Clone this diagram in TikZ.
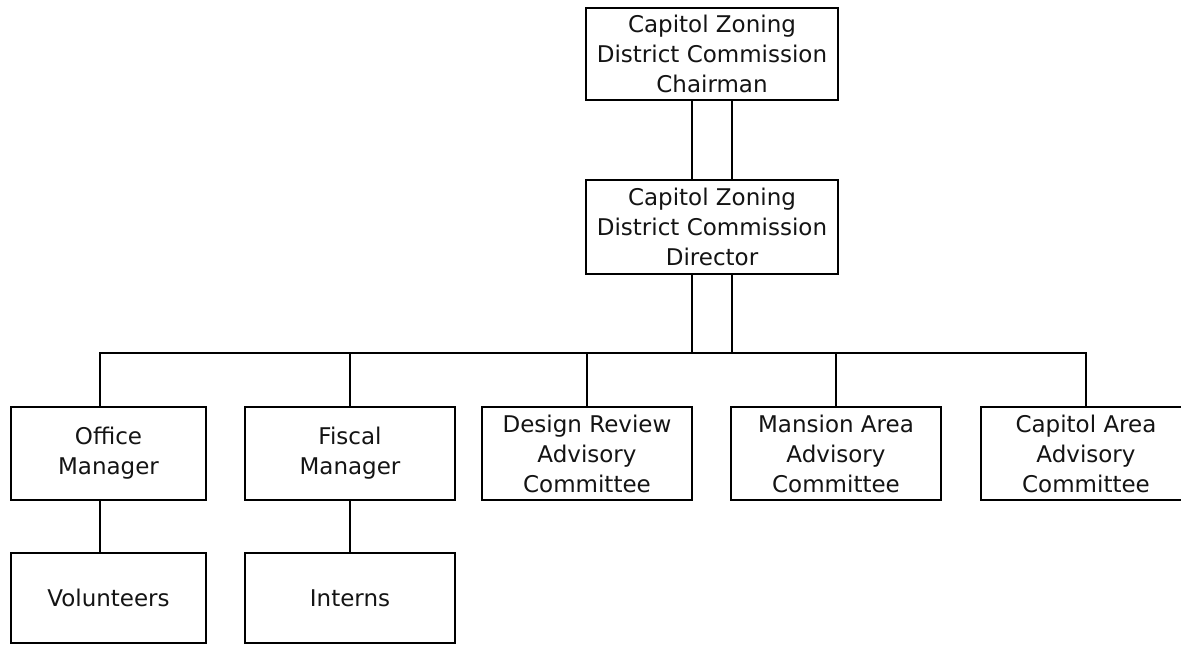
\documentclass[tikz,border=0pt]{standalone}
\usepackage{fontspec}
\setmainfont{DejaVu Sans}
\begin{document}
\begin{tikzpicture}[x=1pt,y=-1pt,
  box/.style={draw=black,line width=2.6pt,fill=white,align=center,inner sep=0pt,
    font=\fontsize{23}{30}\selectfont,text=black!92},
  link/.style={draw=black,line width=2.6pt}]
\useasboundingbox (0,0) rectangle (1181,645);
\clip (0,0) rectangle (1181,645);
\fill[white] (0,0) rectangle (1181,645);

\node[box,minimum width=252pt,minimum height=92pt] (chair) at (712,54) {Capitol Zoning\\District Commission\\Chairman};
\node[box,minimum width=252pt,minimum height=94pt] (dir) at (712,227) {Capitol Zoning\\District Commission\\Director};

\node[box,minimum width=195pt,minimum height=93pt] (office) at (108.5,453.5) {Office\\Manager};
\node[box,minimum width=210pt,minimum height=93pt] (fiscal) at (350,453.5) {Fiscal\\Manager};
\node[box,minimum width=210pt,minimum height=93pt] (design) at (587,453.5) {Design Review\\Advisory\\Committee};
\node[box,minimum width=210pt,minimum height=93pt] (mansion) at (836,453.5) {Mansion Area\\Advisory\\Committee};
\node[box,minimum width=210pt,minimum height=93pt] (capitol) at (1086,453.5) {Capitol Area\\Advisory\\Committee};

\node[box,minimum width=195pt,minimum height=90pt] (vol) at (108.5,598) {Volunteers};
\node[box,minimum width=210pt,minimum height=90pt] (interns) at (350,598) {Interns};

\coordinate (busL) at (100,353);
\coordinate (busR) at (1086,353);
\coordinate (busM) at (712,353);

% double lines chairman - director - bus
\draw[link] ([xshift=-20pt]chair.south) -- ([xshift=-20pt]dir.north);
\draw[link] ([xshift=20pt]chair.south) -- ([xshift=20pt]dir.north);
\draw[link] ([xshift=-20pt]dir.south) -- ([xshift=-20pt]busM);
\draw[link] ([xshift=20pt]dir.south) -- ([xshift=20pt]busM);

% bus
\draw[link,line cap=rect] (busL) -- (busR);

% drops
\draw[link] (busL) -- (busL |- office.north);
\draw[link] (fiscal.north |- busL) -- (fiscal.north);
\draw[link] (design.north |- busL) -- (design.north);
\draw[link] (mansion.north |- busL) -- (mansion.north);
\draw[link] (busR) -- (capitol.north);

% lower level
\draw[link] (busL |- office.south) -- (busL |- vol.north);
\draw[link] (fiscal.south) -- (interns.north);
\end{tikzpicture}
\end{document}
